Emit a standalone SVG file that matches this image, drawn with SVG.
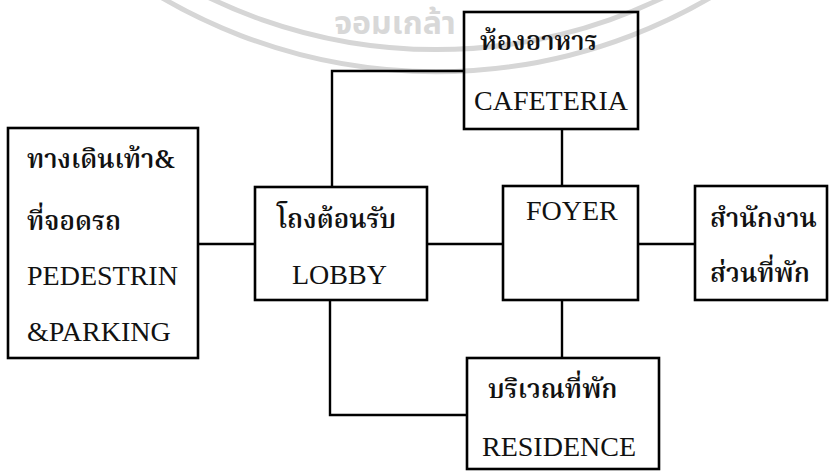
<svg xmlns="http://www.w3.org/2000/svg" width="829" height="471" viewBox="0 0 829 471">
<style>
.box{fill:none;stroke:#000;stroke-width:2.6}
.ln{fill:none;stroke:#000;stroke-width:2.4}
.en{font-family:"Liberation Serif","Times New Roman",serif;font-size:28px;fill:#111}
.th{font-family:"Noto Serif Thai","Loma","Garuda","Norasi","Noto Sans Thai","Liberation Sans",sans-serif;font-size:26px;fill:#111;font-weight:600}
.wm{fill:none;stroke:#d6d6d6;stroke-width:5}
.wmt{font-family:"Noto Sans Thai","Loma","Garuda","Liberation Sans",sans-serif;font-size:32px;fill:#d8d8d8;font-weight:bold}
</style>
<rect width="829" height="471" fill="#fff"/>
<g id="watermark">
<path class="wm" d="M 116 -60 A 522 522 0 0 0 756 -60"/>
<path class="wm" d="M 81 -60 A 544 544 0 0 0 791 -60"/>
<text class="wmt" x="395" y="34" text-anchor="middle">จอมเกล้า</text>
</g>
<g id="connectors">
<line class="ln" x1="198" y1="244" x2="255" y2="244"/>
<line class="ln" x1="427" y1="244" x2="503" y2="244"/>
<line class="ln" x1="638" y1="244" x2="695" y2="244"/>
<polyline class="ln" points="332,187 332,71 464,71"/>
<line class="ln" x1="562" y1="129" x2="562" y2="186"/>
<line class="ln" x1="562" y1="300" x2="562" y2="358"/>
<polyline class="ln" points="330,300 330,415 467,415"/>
</g>
<g id="pedestrian">
<rect class="box" x="8" y="128" width="190" height="230"/>
<text class="th" x="27" y="168">ทางเดินเท้า&amp;</text>
<text class="th" x="27" y="230">ที่จอดรถ</text>
<text class="en" x="27" y="285">PEDESTRIN</text>
<text class="en" x="27" y="341">&amp;PARKING</text>
</g>
<g id="lobby">
<rect class="box" x="255" y="187" width="172" height="113"/>
<text class="th" x="277" y="228">โถงต้อนรับ</text>
<text class="en" x="292" y="284">LOBBY</text>
</g>
<g id="cafeteria">
<rect class="box" x="464" y="12" width="174" height="117"/>
<text class="th" x="480" y="50">ห้องอาหาร</text>
<text class="en" x="474" y="110">CAFETERIA</text>
</g>
<g id="foyer">
<rect class="box" x="503" y="186" width="135" height="114"/>
<text class="en" x="526" y="220">FOYER</text>
</g>
<g id="office">
<rect class="box" x="695" y="186" width="132" height="114"/>
<text class="th" x="710" y="227">สำนักงาน</text>
<text class="th" x="710" y="282">ส่วนที่พัก</text>
</g>
<g id="residence">
<rect class="box" x="467" y="358" width="192" height="111"/>
<text class="th" x="488" y="398">บริเวณที่พัก</text>
<text class="en" x="482" y="456">RESIDENCE</text>
</g>
</svg>
